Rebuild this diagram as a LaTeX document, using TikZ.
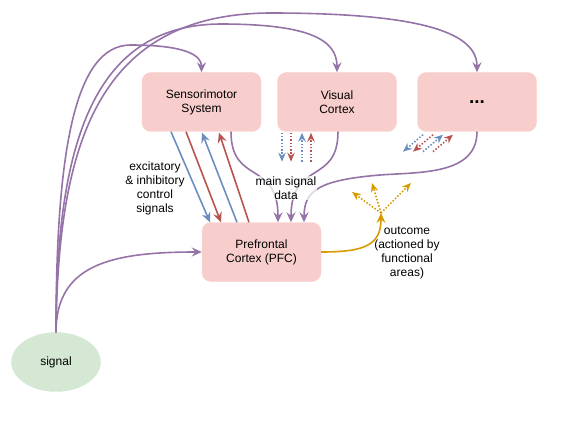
\documentclass[tikz,border=0pt]{standalone}
\usepackage{fontspec}
\setmainfont{Liberation Sans}
\usetikzlibrary{arrows.meta,calc,shapes.geometric}
\definecolor{boxfill}{HTML}{F8CECC}
\definecolor{sigfill}{HTML}{D5E8D4}
\definecolor{cblue}{HTML}{6C8EBF}
\definecolor{cred}{HTML}{B85450}
\definecolor{cpurple}{HTML}{9673A6}
\definecolor{cgold}{HTML}{D79B00}
\begin{document}
\begin{tikzpicture}[x=1pt,y=-1pt,
  box/.style={rectangle,rounded corners=9pt,fill=boxfill,draw=boxfill,minimum width=119pt,minimum height=59pt,align=center,font=\fontsize{12}{14}\selectfont,inner sep=0pt},
  sigstyle/.style={ellipse,fill=sigfill,draw=sigfill,minimum width=89pt,minimum height=59pt,inner sep=0pt,font=\fontsize{12}{14}\selectfont},
  lbl/.style={align=center,font=\fontsize{12}{14}\selectfont,inner sep=1pt},
  tip/.style={-{Stealth[length=10pt,width=9pt,inset=3.5pt]}},
  otip/.style={-{Stealth[open,length=9pt,width=7.5pt,inset=3pt]}},
  solidarrow/.style={line width=1.6pt,tip},
  dotarrow/.style={line width=1.6pt,dash pattern=on 1.5pt off 1.8pt,otip},
]
\useasboundingbox (0,0) rectangle (567,422);

\node[box] (sm) at (201.5,102) {Sensorimotor\\System};
\node[box] (vc) at (337,102) {Visual\\Cortex};
\node[box] (dt) at (477,102) {\fontsize{19}{20}\selectfont\bfseries ...};
\node[box] (pfc) at (261.5,252) {Prefrontal\\Cortex (PFC)};
\node[sigstyle] (sig) at (56,362) {signal};

% signal curves
\draw[cpurple,solidarrow] (sig.north) .. controls (56,150) and (75,46) .. (130,45) .. controls (185,45) and (201.5,55) .. (sm.north);
\draw[cpurple,solidarrow] (sig.north) .. controls (56,140) and (95,25) .. (220,24) .. controls (310,24) and (337,40) .. (vc.north);
\draw[cpurple,solidarrow] (sig.north) .. controls (58,140) and (100,14) .. (270,13) .. controls (430,13) and (477,35) .. (dt.north);
\draw[cpurple,solidarrow] (sig.north) .. controls (56,265) and (110,252) .. (pfc.west);

% sensorimotor <-> PFC
\draw[cblue,solidarrow] ($(sm.south)+(-30.5,0)$) -- ($(pfc.north)+(-51.5,0)$);
\draw[cred,solidarrow] ($(sm.south)+(-15.5,0)$) -- ($(pfc.north)+(-40.5,0)$);
\draw[cblue,solidarrow] ($(pfc.north)+(-24.5,0)$) -- ($(sm.south)+(0.5,1)$);
\draw[cred,solidarrow] ($(pfc.north)+(-12.5,0)$) -- ($(sm.south)+(17.5,1)$);

% visual cortex dotted
\draw[cblue,dotarrow] ($(vc.south)+(-55,1)$) -- ($(vc.south)+(-55,30)$);
\draw[cred,dotarrow] ($(vc.south)+(-46,1)$) -- ($(vc.south)+(-46,30)$);
\draw[cblue,dotarrow] ($(vc.south)+(-35,30)$) -- ($(vc.south)+(-35,1)$);
\draw[cred,dotarrow] ($(vc.south)+(-26,30)$) -- ($(vc.south)+(-26,1)$);

% ... dotted
\draw[cblue,dotarrow] ($(dt.south)+(-54,3)$) -- ($(dt.south)+(-74,20)$);
\draw[cred,dotarrow] ($(dt.south)+(-44,3)$) -- ($(dt.south)+(-64,20)$);
\draw[cblue,dotarrow] ($(dt.south)+(-54,20)$) -- ($(dt.south)+(-34,3)$);
\draw[cred,dotarrow] ($(dt.south)+(-44,20)$) -- ($(dt.south)+(-24,3)$);

% main signal data
\draw[cpurple,solidarrow] ($(sm.south)+(29.5,0)$) .. controls (231,185) and (278,160) .. ($(pfc.north)+(16.5,0)$);
\draw[cpurple,solidarrow] ($(vc.south)+(1,0)$) .. controls (338,185) and (291,160) .. ($(pfc.north)+(29.5,0)$);
\draw[cpurple,solidarrow] (dt.south) .. controls (477,175) and (420,172) .. (380,175) .. controls (320,180) and (304,190) .. ($(pfc.north)+(42.5,0)$);

% outcome
\coordinate (oc) at (381,213);
\draw[cgold,solidarrow] (pfc.east) .. controls (365,252) and (381,245) .. (oc);
\draw[cgold,dotarrow] (oc) -- ($(oc)+(-29,-21)$);
\draw[cgold,dotarrow] (oc) -- ($(oc)+(-9,-30)$);
\draw[cgold,dotarrow] (oc) -- ($(oc)+(30,-30)$);

% labels
\node[lbl] (exc) at (155,188) {excitatory\\\& inhibitory\\control\\signals};
\node[lbl,fill=white,fill opacity=0.7,text opacity=1] (msd) at (286,188) {main signal\\data};
\node[lbl] (out) at (407,253) {outcome\\(actioned by\\functional\\areas)};
\end{tikzpicture}
\end{document}
